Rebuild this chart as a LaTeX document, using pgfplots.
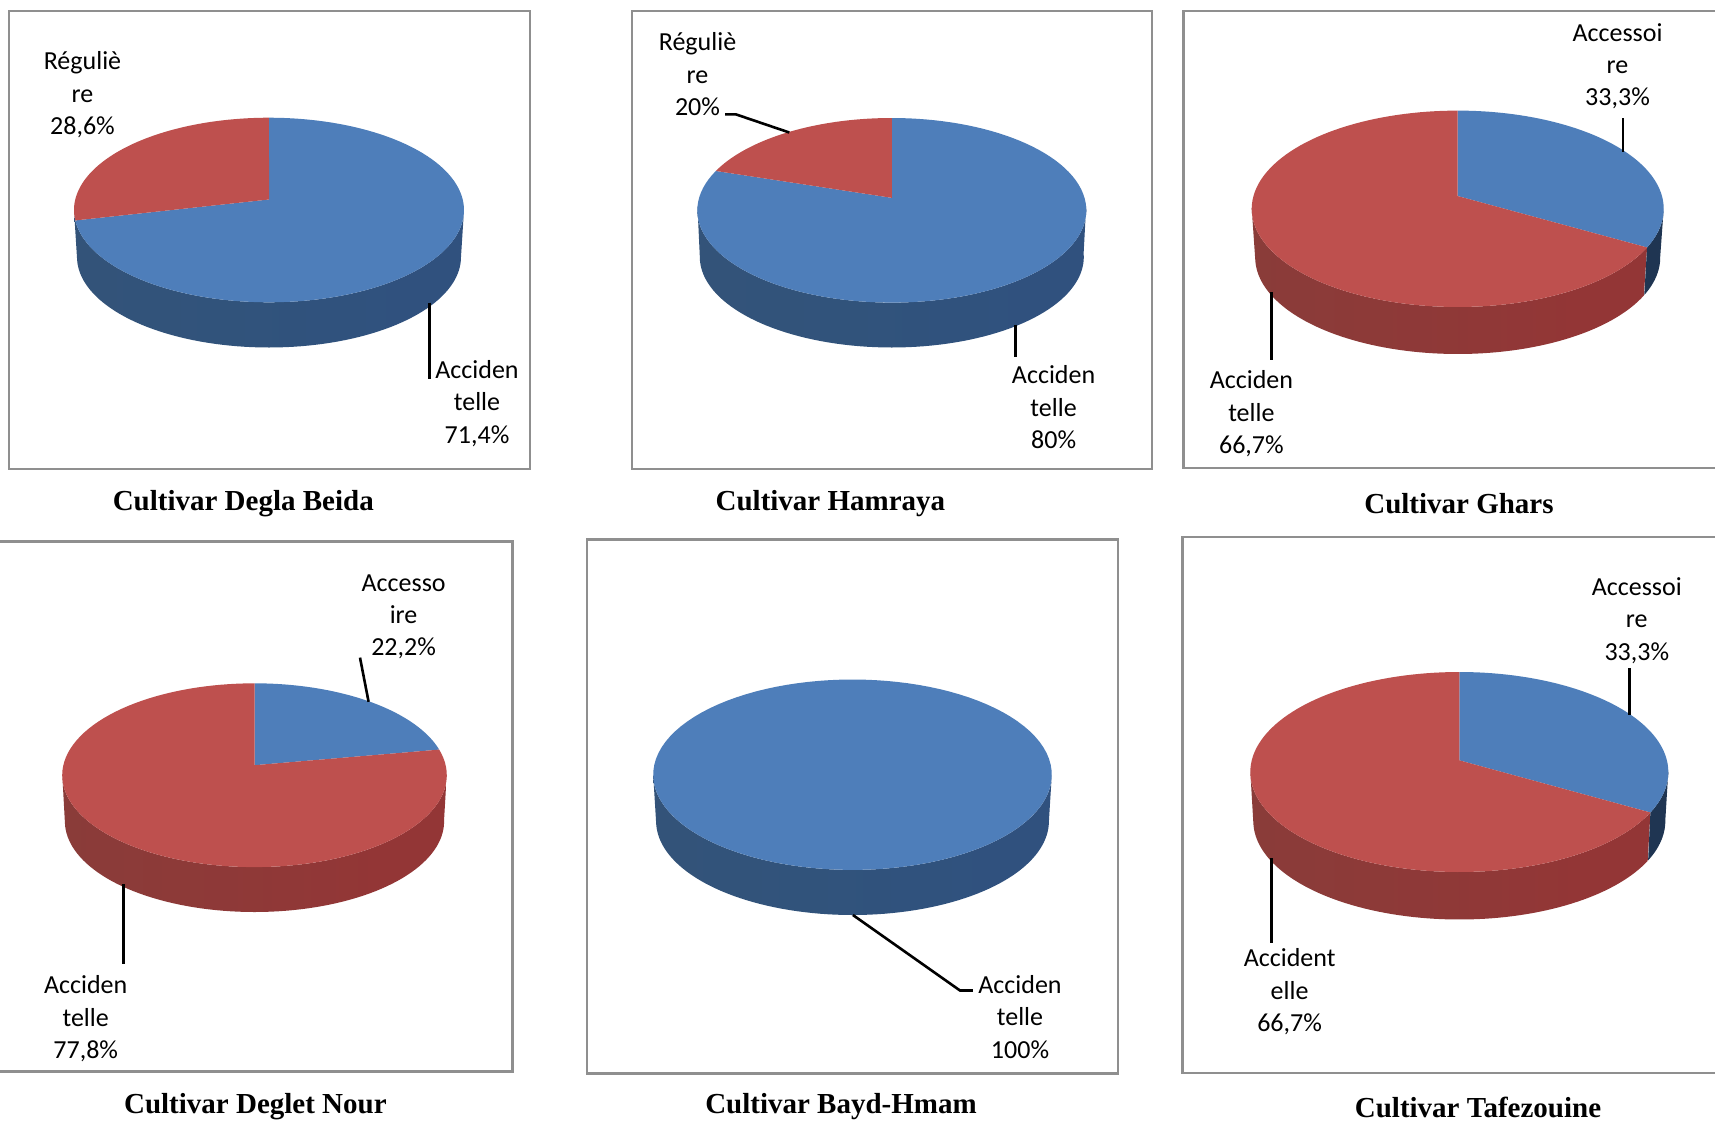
\documentclass[border=0pt]{standalone}
\usepackage{fontspec}
\setmainfont{Carlito}
\newfontfamily\titlefont{Liberation Serif}
\usepackage{pgfplots}
\pgfplotsset{compat=1.18}

\definecolor{pieblue}{HTML}{4E7EBA}
\definecolor{piered}{HTML}{BE504E}
\definecolor{bluedark}{HTML}{1F3552}
\definecolor{framegray}{HTML}{8F8F8F}
\pgfdeclarehorizontalshading{blueside}{100bp}{
  color(0bp)=(rgb:red,69;green,112;blue,163);
  color(25bp)=(rgb:red,69;green,112;blue,163);
  color(50bp)=(rgb:red,47;green,80;blue,120);
  color(66bp)=(rgb:red,31;green,53;blue,82);
  color(100bp)=(rgb:red,31;green,53;blue,82)}
\pgfdeclarehorizontalshading{redside}{100bp}{
  color(0bp)=(rgb:red,166;green,72;blue,69);
  color(25bp)=(rgb:red,166;green,72;blue,69);
  color(50bp)=(rgb:red,111;green,44;blue,43);
  color(66bp)=(rgb:red,76;green,28;blue,28);
  color(100bp)=(rgb:red,76;green,28;blue,28)}

% Geometry of one tilted pie: centre x, top centre y, top radii, tilt,
% bottom centre y and bottom radii.
\newcommand{\pie}[8]{\def\pcx{#1}\def\pcy{#2}\def\prx{#3}\def\pry{#4}\def\pa{#5}%
  \def\pcl{#6}\def\prl{#7}\def\pyl{#8}}

% Wedge of the top face between two cumulative percentages
\newcommand{\sliceraw}[8]{%
  \addplot[forget plot,fill=#8,draw=none,domain=#6:#7,samples=100,variable=\p]
    ({#1+#3*sqrt(1-(#5)^2)*cos(90-3.6*\p)/(1+(#5)*sin(90-3.6*\p))},
     {#2-#4*(sin(90-3.6*\p)+(#5))/(1+(#5)*sin(90-3.6*\p))})
    -- (axis cs:#1,{#2-#4*(#5)}) -- cycle;}
\newcommand{\slice}[3]{\edef\tmp{\noexpand\sliceraw{\pcx}{\pcy}{\prx}{\pry}{\pa}{#1}{#2}{#3}}\tmp}

% Rim of the pie between two cumulative percentages
\newcommand{\rim}[3]{%
  \addplot[forget plot,#3,draw=none,domain=0:2,samples=161,variable=\s,
    declare function={ang(\t)=90-3.6*((#1)+((#2)-(#1))*(\t<=1 ? \t : 2-\t));
      rr(\t)=(\t<=1 ? \prx : \prl); qq(\t)=(\t<=1 ? \pry : \pyl); cc(\t)=(\t<=1 ? \pcy : \pcl);}]
    ({\pcx+rr(\s)*sqrt(1-(\pa)^2)*cos(ang(\s))/(1+(\pa)*sin(ang(\s)))},
     {cc(\s)-qq(\s)*(sin(ang(\s))+(\pa))/(1+(\pa)*sin(ang(\s)))}) -- cycle;}

\newcommand{\frameplot}[4]{\addplot[forget plot,draw=framegray,line width=2.5pt]
  coordinates {(#1,#2) (#3,#2) (#3,#4) (#1,#4) (#1,#2)} -- cycle;}
\newcommand{\leader}[1]{\addplot[forget plot,black,line width=2.6pt] coordinates {#1};}
\newcommand{\lab}[3]{\node[align=center,inner sep=0pt,font=\fontsize{26}{32.4}\selectfont]
  at (axis cs:#1,#2) {#3};}
\newcommand{\ttl}[3]{\node[inner sep=0pt,font=\titlefont\bfseries\fontsize{29}{32}\selectfont]
  at (axis cs:#1,#2) {#3};}

\begin{document}
\begin{tikzpicture}
\begin{axis}[
  scale only axis,width=1715pt,height=1122pt,
  xmin=0,xmax=1715,ymin=0,ymax=1122,y dir=reverse,
  hide axis]

\addplot[forget plot,fill=white,draw=none] coordinates {(0,0) (1715,0) (1715,1122) (0,1122)} -- cycle;

% Cultivar Degla Beida: Accidentelle 71.4, Reguliere 28.6
\frameplot{9}{11}{530}{469}
\pie{269}{210}{195}{92.3}{0.114}{257}{192}{90.5}
\rim{26.8}{73.2}{shading=blueside}
\slice{0}{71.4}{pieblue}
\slice{71.4}{100}{piered}
\leader{(429.6,302.6) (429.6,378.6)}
\lab{82.5}{95}{Réguliè\\re\\28,6\%}
\lab{477}{403.6}{Acciden\\telle\\71,4\%}
\ttl{243.3}{504}{Cultivar Degla Beida}

% Cultivar Hamraya: Accidentelle 80, Reguliere 20
\frameplot{632}{11}{1152}{469}
\pie{891.8}{210.3}{194.5}{92.3}{0.135}{257}{192}{90.5}
\rim{26.5}{73.5}{shading=blueside}
\slice{0}{80}{pieblue}
\slice{80}{100}{piered}
\leader{(725,114.3) (735.7,114.3) (789.3,132.5)}
\leader{(1015.4,324.5) (1015.4,356.7)}
\lab{697.5}{74.4}{Réguliè\\re\\20\%}
\lab{1053.6}{407.4}{Acciden\\telle\\80\%}
\ttl{830.4}{504}{Cultivar Hamraya}

% Cultivar Ghars: Accessoire 33.3, Accidentelle 66.7
\frameplot{1183.6}{11}{1740}{468}
\pie{1457.7}{208.8}{206}{98.2}{0.13}{257.5}{202.5}{96.5}
\rim{33.3}{73}{shading=redside}
\rim{27}{33.3}{fill=bluedark}
\slice{0}{33.3}{pieblue}
\slice{33.3}{100}{piered}
\leader{(1623,118.3) (1623,152)}
\leader{(1271.4,292.4) (1271.4,360)}
\lab{1617.5}{66.3}{Accessoi\\re\\33,3\%}
\lab{1251.4}{413.8}{Acciden\\telle\\66,7\%}
\ttl{1459}{504}{Cultivar Ghars}

% Cultivar Deglet Nour: Accessoire 22.2, Accidentelle 77.8
\frameplot{-20}{541.3}{512.5}{1071.7}
\pie{254.5}{775.2}{192.3}{91.9}{0.109}{821.4}{189.6}{90.6}
\rim{26.5}{73.5}{shading=redside}
\slice{0}{22.2}{pieblue}
\slice{22.2}{100}{piered}
\leader{(360,657.6) (368.6,701.8)}
\leader{(123.6,884) (123.6,964)}
\lab{403.6}{616.8}{Accesso\\ire\\22,2\%}
\lab{85.7}{1018.9}{Acciden\\telle\\77,8\%}
\ttl{255.4}{1107}{Cultivar Deglet Nour}

% Cultivar Bayd-Hmam: Accidentelle 100
\frameplot{587}{539.4}{1118}{1073.6}
\pie{852.5}{774.7}{199.3}{95.2}{0.12}{821.2}{196.4}{93.8}
\rim{26.9}{73.1}{shading=blueside}
\slice{0}{100}{pieblue}
\leader{(852.9,915) (960,990.5) (972.9,990.5)}
\lab{1020}{1017}{Acciden\\telle\\100\%}
\ttl{841}{1107}{Cultivar Bayd-Hmam}

% Cultivar Tafezouine: Accessoire 33.3, Accidentelle 66.7
\frameplot{1182.5}{536.8}{1740}{1072.8}
\pie{1459.3}{772}{209}{100}{0.117}{821}{206}{98.5}
\rim{33.3}{73.2}{shading=redside}
\rim{26.8}{33.3}{fill=bluedark}
\slice{0}{33.3}{pieblue}
\slice{33.3}{100}{piered}
\leader{(1629.3,668.2) (1629.3,715)}
\leader{(1271.4,858.4) (1271.4,942.6)}
\lab{1636.8}{620.6}{Accessoi\\re\\33,3\%}
\lab{1289.6}{991.7}{Accident\\elle\\66,7\%}
\ttl{1478}{1107}{Cultivar Tafezouine}

\end{axis}
\end{tikzpicture}
\end{document}
